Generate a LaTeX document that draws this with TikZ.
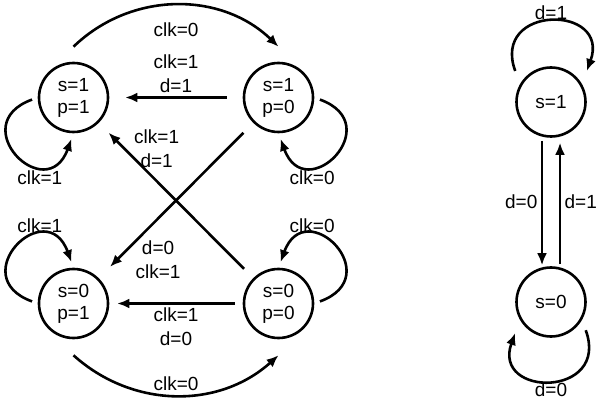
\documentclass[tikz,border=0pt]{standalone}
\usepackage{fontspec}
\setmainfont{Liberation Sans}
\usetikzlibrary{automata,positioning,arrows.meta}

\begin{document}
\begin{tikzpicture}[>={Latex[length=12pt,width=10pt]},line width=2.6pt,node distance=205pt,on grid,auto,align=center,
   font=\fontsize{19}{24}\selectfont,
   every state/.style={draw,minimum size=69pt,inner sep=0pt,font=\fontsize{19}{22}\selectfont}]
   \useasboundingbox (-73.5pt,-306.5pt) rectangle (524.5pt,97.5pt);
   \node[state] (s1p1) {s=1\\p=1};
   \node[state] (s1p0) [right=of s1p1] {s=1\\p=0};
   \node[state] (s0p1) [below=206pt of s1p1] {s=0\\p=1};
   \node[state] (s0p0) [right=of s0p1] {s=0\\p=0};
   \node[state] (q1) [below right=4.5pt and 272.5pt of s1p0] {s=1};
   \node[state] (q0) [below=200pt of q1] {s=0};
    \path[->]
(s1p1.west) edge [out=200,in=250,distance=79pt,shorten <=6pt,shorten >=6pt] node[pos=.7,below,yshift=-3pt] {clk=1} (s1p1.south)
([yshift=15pt]s1p1.north) edge [bend left=44] node[swap,yshift=-13pt] {clk=0} ([yshift=15pt]s1p0.north)
(s1p0.east) edge [out=-20,in=-70,distance=79pt,shorten <=6pt,shorten >=6pt] node[pos=.7,below,yshift=-3pt] {clk=0} (s1p0.south)
(s1p0) edge [shorten <=16pt,shorten >=16pt] node[swap] {clk=1\\d=1} (s1p1)
	edge [shorten <=14pt,shorten >=16pt] node[pos=.75,anchor=center,shift={(20.7pt,-20.6pt)}] {d=0\\clk=1} (s0p1)
(s0p1.west) edge [out=160,in=110,distance=79pt,shorten <=6pt,shorten >=6pt] node[pos=.7,above] {clk=1} (s0p1.north)
([yshift=-16pt]s0p1.south) edge [bend right=42] node {clk=0} ([yshift=-16pt]s0p0.south)
(s0p0.east) edge [out=20,in=70,distance=79pt,shorten <=6pt,shorten >=6pt] node[pos=.7,above] {clk=0} (s0p0.north)
(s0p0) edge [shorten <=8pt,shorten >=8pt] node {clk=1\\d=0} (s0p1)
	edge [shorten <=13pt,shorten >=14pt] node[pos=.73,anchor=center,shift={(16.2pt,16.1pt)}] {clk=1\\d=1} (s1p1)
(q1.150) edge [out=110,in=70,distance=85pt,shorten <=14pt,shorten >=14pt] node {d=1} (q1.30)
([xshift=-9pt]q1.south) edge [shorten <=3pt,shorten >=1pt] node[swap] {d=0} ([xshift=-9pt]q0.north)
(q0.-30) edge [out=-70,in=-110,distance=83pt,shorten <=11pt,shorten >=14pt] node {d=0} (q0.-150)
([xshift=9pt]q0.north) edge [shorten <=2pt,shorten >=5pt] node[swap] {d=1} ([xshift=9pt]q1.south);
\end{tikzpicture}
\end{document}
